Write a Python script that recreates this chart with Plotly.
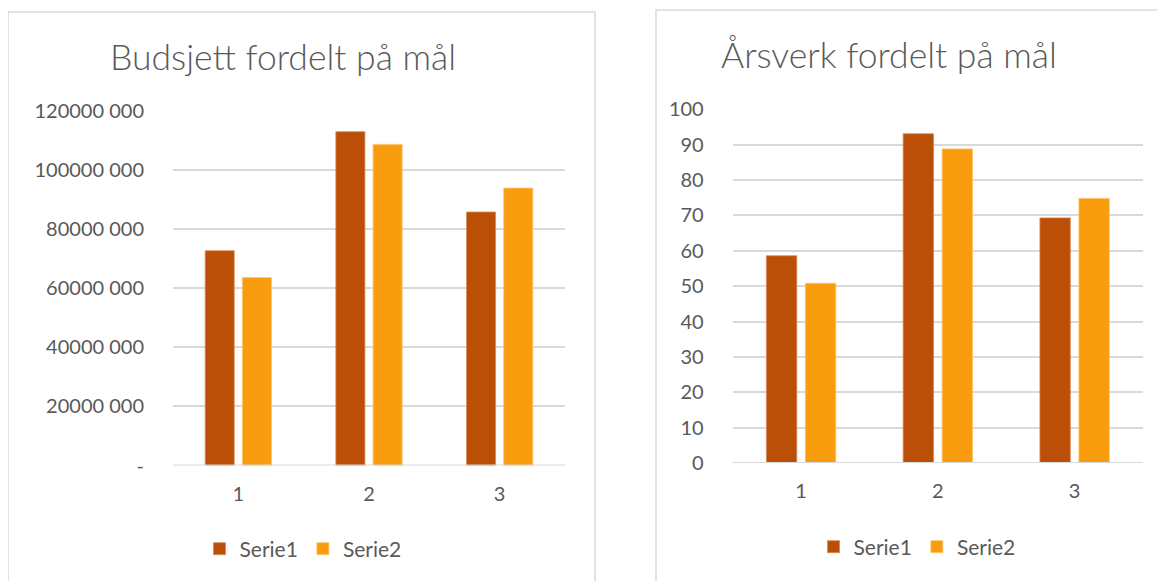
import plotly.graph_objects as go

categories = ["1", "2", "3"]
budget_serie1 = [72700000, 113000000, 85800000]
budget_serie2 = [63600000, 108700000, 93900000]
arsverk_serie1 = [58.6, 93.1, 69.3]
arsverk_serie2 = [50.8, 88.8, 74.8]

budget_tickvals = [0, 20000000, 40000000, 60000000, 80000000, 100000000, 120000000]
budget_ticktext = ["-", "20000 000", "40000 000", "60000 000", "80000 000", "100000 000", "120000 000"]
arsverk_tickvals = list(range(0, 101, 10))

title_left = "Budsjett fordelt på mål"
title_right = "Årsverk fordelt på mål"
series_names = ["Serie1", "Serie2"]

C1 = "#BC4F07"
C2 = "#F99C0E"
GRID = "#D9D9D9"
TXT = "#595959"
FONT = "Lato, Carlito, Calibri, sans-serif"

W, H = 1165, 581
OFF = 8  # page body margin offset
def px(x):
    return (x - OFF) / W
def py(y):
    return 1 - (y - OFF) / H

fig = go.Figure()
fig.add_trace(go.Bar(x=categories, y=budget_serie1, name=series_names[0], marker=dict(color=C1, line=dict(color="#D98A55", width=0.8)),
                     xaxis="x", yaxis="y", legend="legend"))
fig.add_trace(go.Bar(x=categories, y=budget_serie2, name=series_names[1], marker=dict(color=C2, line=dict(color="#FCC46A", width=0.8)),
                     xaxis="x", yaxis="y", legend="legend"))
fig.add_trace(go.Bar(x=categories, y=arsverk_serie1, name=series_names[0], marker=dict(color=C1, line=dict(color="#D98A55", width=0.8)),
                     xaxis="x2", yaxis="y2", legend="legend2"))
fig.add_trace(go.Bar(x=categories, y=arsverk_serie2, name=series_names[1], marker=dict(color=C2, line=dict(color="#FCC46A", width=0.8)),
                     xaxis="x2", yaxis="y2", legend="legend2"))

axis_common_x = dict(showgrid=False, zeroline=False, showline=False, ticks="", automargin=False,
                     tickfont=dict(family=FONT, size=20, color=TXT), ticklabelstandoff=14, fixedrange=True)
axis_common_y = dict(showgrid=True, gridcolor=GRID, gridwidth=1.5, zeroline=False, showline=False, ticks="",
                     automargin=False,
                     tickfont=dict(family=FONT, size=20, color=TXT), ticklabelstandoff=28, fixedrange=True)

fig.update_layout(
    template="none",
    width=W, height=H, autosize=False,
    margin=dict(l=0, r=0, t=0, b=0, pad=0),
    paper_bgcolor="white", plot_bgcolor="white",
    barmode="group", bargap=0.43, bargroupgap=0.22,
    font=dict(family=FONT, color=TXT),
    xaxis=dict(domain=[px(173), px(565)], anchor="y", **axis_common_x),
    yaxis=dict(domain=[py(465.5), py(111)], anchor="x", range=[0, 120000000],
               tickvals=budget_tickvals, ticktext=budget_ticktext, **axis_common_y),
    xaxis2=dict(domain=[px(732.7), px(1143)], anchor="y2", **axis_common_x),
    yaxis2=dict(domain=[py(463), py(109.3)], anchor="x2", range=[0, 100],
                tickvals=arsverk_tickvals, **axis_common_y),
    legend=dict(orientation="h", x=px(303), y=py(549), xanchor="center", yanchor="middle",
                font=dict(family=FONT, size=21, color=TXT), bgcolor="rgba(0,0,0,0)", itemwidth=30),
    legend2=dict(orientation="h", x=px(917), y=py(547), xanchor="center", yanchor="middle",
                 font=dict(family=FONT, size=21, color=TXT), bgcolor="rgba(0,0,0,0)", itemwidth=30),
    showlegend=True,
)

# baselines
fig.add_shape(type="line", xref="paper", yref="y", x0=px(173), x1=px(565), y0=0, y1=0,
              line=dict(color=GRID, width=2))
fig.add_shape(type="line", xref="paper", yref="y2", x0=px(732.7), x1=px(1143), y0=0, y1=0,
              line=dict(color=GRID, width=2))

# chart-area borders
fig.add_shape(type="rect", xref="paper", yref="paper", x0=px(8), x1=px(595), y0=py(600), y1=py(12),
              line=dict(color=GRID, width=1.5), fillcolor="rgba(0,0,0,0)", layer="below")
fig.add_shape(type="rect", xref="paper", yref="paper", x0=px(656), x1=px(1185), y0=py(600), y1=py(10),
              line=dict(color=GRID, width=1.5), fillcolor="rgba(0,0,0,0)", layer="below")

fig.add_annotation(text=title_left, xref="paper", yref="paper", x=px(282.5), y=py(57),
                   xanchor="center", yanchor="middle", showarrow=False,
                   font=dict(family=FONT, size=35.5, color=TXT, weight=300))
fig.add_annotation(text=title_right, xref="paper", yref="paper", x=px(889), y=py(55),
                   xanchor="center", yanchor="middle", showarrow=False,
                   font=dict(family=FONT, size=35.5, color=TXT, weight=300))

fig.write_html("out.html")
